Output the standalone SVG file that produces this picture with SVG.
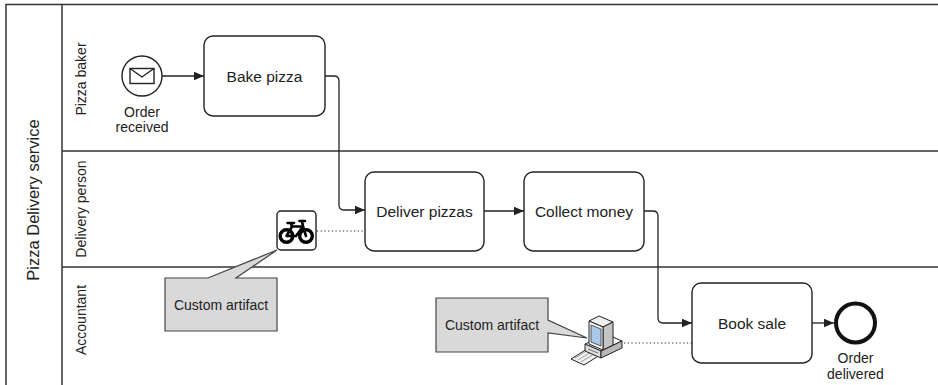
<svg xmlns="http://www.w3.org/2000/svg" width="938" height="385" viewBox="0 0 938 385">
  <style>
    .pool { fill: none; stroke: #333; stroke-width: 1.5; }
    .task { fill: #fff; stroke: #222; stroke-width: 1.4; }
    .lbl { font-family: "Liberation Sans", Arial, sans-serif; fill: #222; }
    .flow { fill: none; stroke: #222; stroke-width: 1.3; }
    .assoc { fill: none; stroke: #333; stroke-width: 1.2; stroke-dasharray: 1.3 2.4; }
    .note { fill: #d9d9d9; stroke: #444; stroke-width: 1.2; }
  </style>
  <defs>
    <marker id="arrow" viewBox="0 0 10 10" refX="10" refY="5" markerWidth="10" markerHeight="10" markerUnits="userSpaceOnUse" orient="auto">
      <path d="M0,0.8 L10,5 L0,9.2 Z" fill="#222"/>
    </marker>
  </defs>
  <rect width="938" height="385" fill="#fff"/>

  <!-- pool and lanes -->
  <g id="pool">
    <path class="pool" d="M6,395 V4.5 H940"/>
    <path class="pool" d="M62,4.5 V395"/>
    <path class="pool" d="M62,151 H940 M62,267 H940"/>
    <text class="lbl" font-size="16.5" text-anchor="middle" transform="translate(38.5,200) rotate(-90)">Pizza Delivery service</text>
  </g>
  <g id="lane-baker">
    <text class="lbl" font-size="14" text-anchor="middle" transform="translate(85.5,79) rotate(-90)">Pizza baker</text>
  </g>
  <g id="lane-delivery">
    <text class="lbl" font-size="14" text-anchor="middle" transform="translate(85.5,209) rotate(-90)">Delivery person</text>
  </g>
  <g id="lane-accountant">
    <text class="lbl" font-size="14" text-anchor="middle" transform="translate(85.5,320) rotate(-90)">Accountant</text>
  </g>

  <!-- connectors -->
  <g id="connectors">
    <path class="flow" d="M162,76 H204" marker-end="url(#arrow)"/>
    <path class="flow" d="M325,76 H334 Q339,76 339,81 V205 Q339,210 344,210 H365" marker-end="url(#arrow)"/>
    <path class="flow" d="M484,211 H524" marker-end="url(#arrow)"/>
    <path class="flow" d="M644,211 H653 Q658,211 658,216 V318 Q658,323 663,323 H692" marker-end="url(#arrow)"/>
    <path class="flow" d="M812,323 H834" marker-end="url(#arrow)"/>
    <path class="assoc" d="M317,231 H365"/>
    <path class="assoc" d="M624,343 H692"/>
  </g>

  <!-- start event -->
  <g id="order-received">
    <circle cx="142" cy="76" r="20" fill="#fff" stroke="#222" stroke-width="1.4"/>
    <rect x="130" y="68.5" width="24" height="15" fill="#fff" stroke="#222" stroke-width="1.4"/>
    <path d="M130,68.5 L142,77 L154,68.5" fill="none" stroke="#222" stroke-width="1.4"/>
    <text class="lbl" font-size="14" text-anchor="middle" x="142" y="117">Order</text>
    <text class="lbl" font-size="14" text-anchor="middle" x="142" y="132">received</text>
  </g>

  <!-- tasks -->
  <g id="bake-pizza">
    <rect class="task" x="204" y="36" width="121" height="80" rx="9"/>
    <text class="lbl" font-size="15.5" text-anchor="middle" x="264.5" y="81.5">Bake pizza</text>
  </g>
  <g id="deliver-pizzas">
    <rect class="task" x="365" y="172" width="119" height="79" rx="9"/>
    <text class="lbl" font-size="15.5" text-anchor="middle" x="424.5" y="216.5">Deliver pizzas</text>
  </g>
  <g id="collect-money">
    <rect class="task" x="524" y="172" width="120" height="79" rx="9"/>
    <text class="lbl" font-size="15.5" text-anchor="middle" x="584" y="216.5">Collect money</text>
  </g>
  <g id="book-sale">
    <rect class="task" x="692" y="283" width="120" height="80" rx="9"/>
    <text class="lbl" font-size="15.5" text-anchor="middle" x="752" y="328.5">Book sale</text>
  </g>

  <!-- end event -->
  <g id="order-delivered">
    <circle cx="855.5" cy="323" r="19.5" fill="#fff" stroke="#111" stroke-width="4"/>
    <text class="lbl" font-size="14" text-anchor="middle" x="855.5" y="363">Order</text>
    <text class="lbl" font-size="14" text-anchor="middle" x="855.5" y="379">delivered</text>
  </g>

  <!-- bicycle artifact -->
  <g id="bicycle">
    <rect x="277" y="211" width="39" height="39" rx="4" fill="#fff" stroke="#222" stroke-width="1.4"/>
    <g fill="none" stroke="#000" stroke-linecap="round" stroke-linejoin="round">
      <circle cx="286.5" cy="236" r="6.3" stroke-width="3.4"/>
      <circle cx="306" cy="236" r="6.3" stroke-width="3.4"/>
      <path d="M286.5,236 L292,226.5 L303,226.5 L296,236 Z" stroke-width="2.6"/>
      <path d="M291,223.5 L292,226.5 M303,226.5 L306,236 M303,226.5 L302,221" stroke-width="2.6"/>
      <path d="M287.5,223 H294 M299.5,221 H305" stroke-width="2.6"/>
    </g>
  </g>

  <!-- callout for bicycle -->
  <g id="note-bicycle">
    <path class="note" d="M165,278 H208 L277,250 L236,278 H277 V331 H165 Z"/>
    <text class="lbl" font-size="14" text-anchor="middle" x="221" y="310">Custom artifact</text>
  </g>

  <!-- computer artifact -->
  <g id="computer" stroke="#222" stroke-width="1" stroke-linejoin="round">
    <polygon points="571,359 587,349 600,355 584,365" fill="#f0f0f0"/>
    <path d="M575,358 L588,350 M578,360 L591,352 M581,362 L594,354" fill="none" stroke="#888" stroke-width="0.8"/>
    <polygon points="585,344 606,334 622,341 601,351" fill="#f4f4f4"/>
    <polygon points="585,344 601,351 601,358 585,351" fill="#ddd"/>
    <polygon points="601,351 622,341 622,348 601,358" fill="#b8b8b8"/>
    <path d="M588,349 L598,353" fill="none" stroke="#555" stroke-width="0.8"/>
    <polygon points="589,321 599,316 613,322 603,327" fill="#eee"/>
    <polygon points="603,327 613,322 613,345 603,350" fill="#c4c4c4"/>
    <polygon points="589,321 603,327 603,350 589,344" fill="#f7f7f7"/>
    <polygon points="591,325 601,329 601,346 591,342" fill="#a9c9ea" stroke="#333" stroke-width="0.8"/>
  </g>

  <!-- callout for computer -->
  <g id="note-computer">
    <path class="note" d="M436,298 H548 V320 L587,338 L548,333 V352 H436 Z"/>
    <text class="lbl" font-size="14" text-anchor="middle" x="492" y="330">Custom artifact</text>
  </g>
</svg>
